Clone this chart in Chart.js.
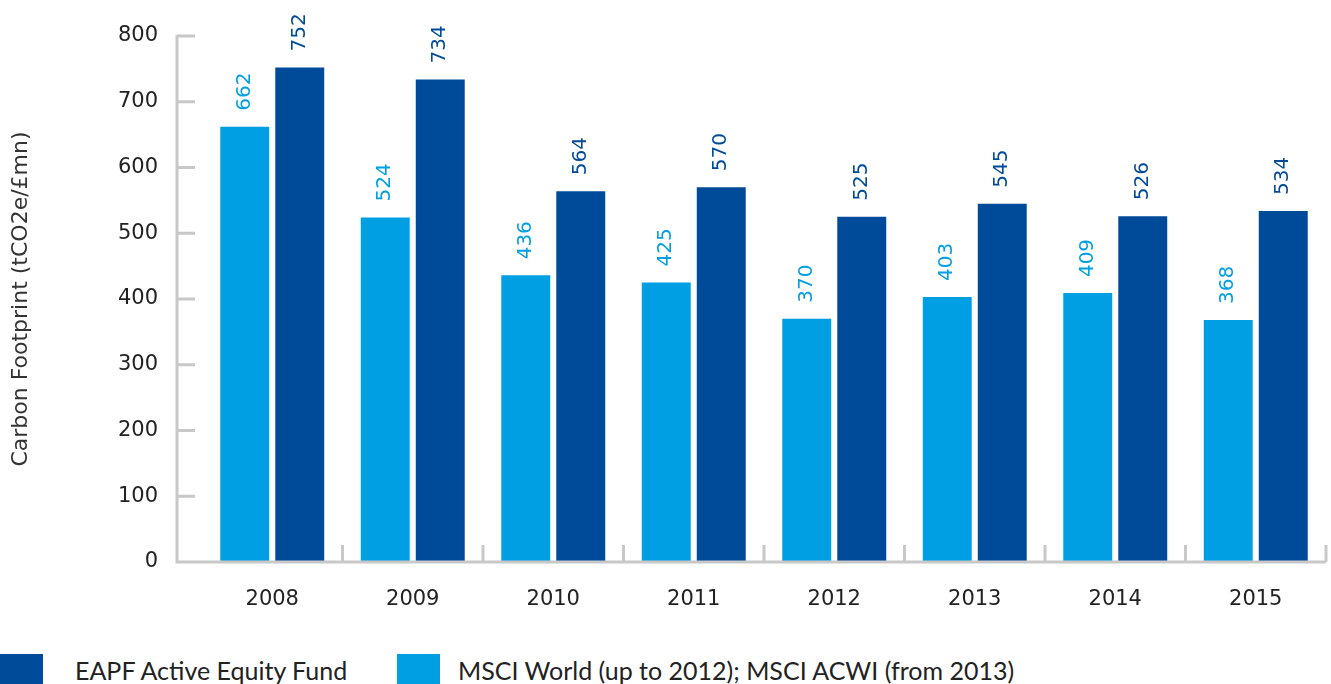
<!DOCTYPE html>
<html>
<head>
<meta charset="utf-8">
<script src="https://cdn.jsdelivr.net/npm/chart.js@4"></script>
<style>
  html, body { margin: 0; padding: 0; background: #fff; }
  #wrap { position: relative; width: 1331px; height: 684px; overflow: hidden; }
  #chart { position: absolute; left: 0; top: 0; }
  .legend { position: absolute; top: 654px; height: 34px; font-family: Lato, sans-serif; font-size: 25px; color: #222; }
  .legend .box { position: absolute; top: 0; width: 43px; height: 34px; }
  .legend .txt { position: absolute; top: 1px; white-space: nowrap; }
</style>
</head>
<body>
<div id="wrap">
  <canvas id="chart" width="1331" height="640"></canvas>
  <div class="legend" style="left:0">
    <div class="box" style="left:0;background:#004a9a"></div>
    <div class="txt" style="left:75px">EAPF Active Equity Fund</div>
  </div>
  <div class="legend" style="left:397px">
    <div class="box" style="left:0;background:#009fe3"></div>
    <div class="txt" style="left:61px">MSCI World (up to 2012); MSCI ACWI (from 2013)</div>
  </div>
</div>
<script>
// chart data
const years = ['2008', '2009', '2010', '2011', '2012', '2013', '2014', '2015'];
const msciValues = [662, 524, 436, 425, 370, 403, 409, 368];
const eapfValues = [752, 734, 564, 570, 525, 545, 526, 534];
const yTicks = [0, 100, 200, 300, 400, 500, 600, 700, 800];

const lightBlue = '#009fe3';
const darkBlue = '#004a9a';
const axisGrey = '#c8c8c8';
const numFont = '"DejaVu Sans", sans-serif';

// draws the grey axis lines with inward tick marks
const axesPlugin = {
    id: 'axesPlugin',
    afterDatasetsDraw(chart) {
        const ctx = chart.ctx;
        const x = chart.scales.x;
        const y = chart.scales.y;
        const axisX = chart.chartArea.left - 25;
        const base = y.getPixelForValue(0);
        ctx.save();
        ctx.strokeStyle = axisGrey;
        ctx.lineWidth = 3;
        ctx.beginPath();
        ctx.moveTo(axisX, y.getPixelForValue(yTicks[yTicks.length - 1]) - 1);
        ctx.lineTo(axisX, base);
        ctx.lineTo(chart.chartArea.right, base);
        yTicks.forEach(function (v) {
            const py = y.getPixelForValue(v);
            if (v === 0) return;
            ctx.moveTo(axisX, py);
            ctx.lineTo(axisX + 18, py);
        });
        const step = x.getPixelForValue(1) - x.getPixelForValue(0);
        years.forEach(function (yr, i) {
            const px = x.getPixelForValue(i) + step / 2;
            ctx.moveTo(px, base);
            ctx.lineTo(px, base - 17);
        });
        ctx.stroke();
        ctx.restore();
    }
};

// rotated value labels above each bar
const valueLabels = {
    id: 'valueLabels',
    afterDatasetsDraw(chart) {
        const ctx = chart.ctx;
        ctx.save();
        ctx.font = '20px ' + numFont;
        ctx.textAlign = 'left';
        ctx.textBaseline = 'middle';
        chart.data.datasets.forEach(function (ds, di) {
            const meta = chart.getDatasetMeta(di);
            meta.data.forEach(function (bar, i) {
                ctx.save();
                ctx.fillStyle = ds.backgroundColor;
                ctx.translate(bar.x, bar.y - 16);
                ctx.rotate(-Math.PI / 2);
                ctx.fillText(ds.data[i], 0, 0);
                ctx.restore();
            });
        });
        ctx.restore();
    }
};

new Chart(document.getElementById('chart').getContext('2d'), {
    type: 'bar',
    data: {
        labels: years,
        datasets: [
            { label: 'MSCI World (up to 2012); MSCI ACWI (from 2013)', data: msciValues, backgroundColor: lightBlue },
            { label: 'EAPF Active Equity Fund', data: eapfValues, backgroundColor: darkBlue }
        ]
    },
    options: {
        responsive: false,
        animation: false,
        layout: { padding: { left: 8, right: 5, top: 36, bottom: 0 } },
        datasets: { bar: { categoryPercentage: 0.783, barPercentage: 0.89 } },
        plugins: {
            legend: { display: false },
            tooltip: { enabled: false }
        },
        scales: {
            x: {
                grid: { display: false },
                border: { display: false },
                ticks: { color: '#222', font: { family: numFont, size: 21 }, padding: 17 },
                afterFit: function (scale) {
                    scale.height = 78;
                    scale.paddingLeft = 0;
                    scale.paddingRight = 0;
                }
            },
            y: {
                min: 0,
                max: 800,
                afterBuildTicks: function (scale) { scale.ticks = yTicks.map(v => ({ value: v })); },
                grid: { display: false },
                border: { display: false },
                ticks: { color: '#222', font: { family: numFont, size: 21 }, padding: 36 },
                title: {
                    display: true,
                    text: 'Carbon Footprint (tCO2e/£mn)',
                    color: '#333',
                    font: { family: numFont, size: 22 },
                    padding: 0
                },
                afterFit: function (scale) {
                    scale.width = 194;
                    scale.paddingTop = 0;
                    scale.paddingBottom = 0;
                }
            }
        }
    },
    plugins: [axesPlugin, valueLabels]
});
</script>
</body>
</html>
